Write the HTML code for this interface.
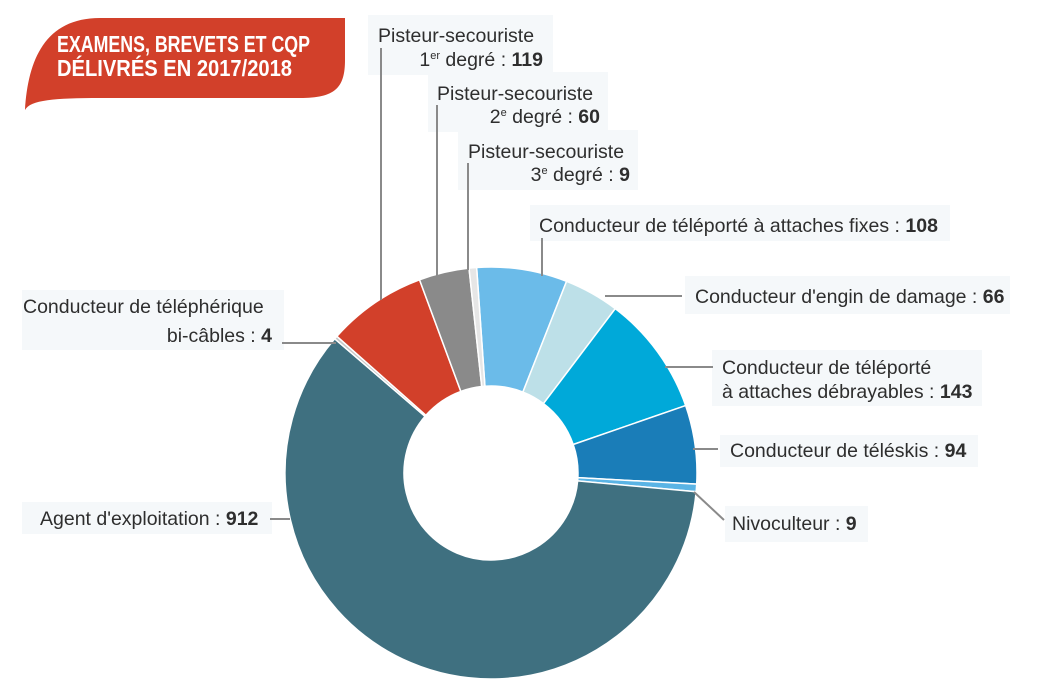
<!DOCTYPE html>
<html><head><meta charset="utf-8"><style>
html,body{margin:0;padding:0;background:#fff;}
body{width:1059px;height:691px;overflow:hidden;}
text{font-family:"Liberation Sans",sans-serif;font-size:19.5px;fill:#2e2e2e;}
.b{font-weight:bold;}
.t{font-family:"Liberation Sans",sans-serif;font-weight:bold;font-size:23px;fill:#fff;}
</style></head><body>
<svg id="s" width="1059" height="691" viewBox="0 0 1059 691" xmlns="http://www.w3.org/2000/svg">
<g fill="#f5f8fa">
<rect x="368" y="15" width="185" height="60"/>
<rect x="428" y="72" width="180" height="60"/>
<rect x="458" y="130" width="180" height="60"/>
<rect x="530" y="205" width="420" height="36"/>
<rect x="685" y="276" width="325" height="38"/>
<rect x="712" y="350" width="270" height="56"/>
<rect x="720" y="435" width="258" height="32"/>
<rect x="725" y="506" width="143" height="36"/>
<rect x="22" y="290" width="262" height="60"/>
<rect x="22" y="502" width="250" height="32"/>
</g>
<path d="M25,110 C28,60 45,18 100,18 L345,18 L345,60 C345,88 335,98 300,98 L100,98 C55,98 30,100 25,110 Z" fill="#d2402a"/>
<text class="t" x="57" y="52" textLength="253" lengthAdjust="spacingAndGlyphs">EXAMENS, BREVETS ET CQP</text>
<text class="t" x="57" y="76" textLength="235" lengthAdjust="spacingAndGlyphs">DÉLIVRÉS EN 2017/2018</text>
<g id="donut"></g>
<g stroke="#8a8a8a" stroke-width="2" fill="none">
<line x1="381" y1="48" x2="381" y2="300"/>
<line x1="437" y1="105" x2="437" y2="277"/>
<line x1="468" y1="163" x2="468" y2="270"/>
<line x1="542" y1="238" x2="542" y2="276"/>
<line x1="605" y1="296" x2="682" y2="296"/>
<line x1="665" y1="367" x2="713" y2="367"/>
<line x1="693" y1="449" x2="718" y2="449"/>
<line x1="694" y1="492" x2="724" y2="520"/>
<line x1="282" y1="343" x2="336" y2="343"/>
<line x1="270" y1="519" x2="290" y2="519"/>
</g>
<text x="378" y="42">Pisteur-secouriste</text>
<text x="543" y="66" text-anchor="end">1<tspan font-size="11" dy="-7">er</tspan><tspan dy="7"> degré : </tspan><tspan class="b">119</tspan></text>
<text x="437" y="100">Pisteur-secouriste</text>
<text x="600" y="123" text-anchor="end">2<tspan font-size="11" dy="-7">e</tspan><tspan dy="7"> degré : </tspan><tspan class="b">60</tspan></text>
<text x="468" y="158">Pisteur-secouriste</text>
<text x="630" y="181" text-anchor="end">3<tspan font-size="11" dy="-7">e</tspan><tspan dy="7"> degré : </tspan><tspan class="b">9</tspan></text>
<text x="539" y="232">Conducteur de téléporté à attaches fixes : <tspan class="b">108</tspan></text>
<text x="695" y="303">Conducteur d'engin de damage : <tspan class="b">66</tspan></text>
<text x="722" y="374">Conducteur de téléporté</text>
<text x="722" y="398">à attaches débrayables : <tspan class="b">143</tspan></text>
<text x="730" y="457">Conducteur de téléskis : <tspan class="b">94</tspan></text>
<text x="732" y="530">Nivoculteur : <tspan class="b">9</tspan></text>
<text x="23" y="313">Conducteur de téléphérique</text>
<text x="272" y="342" text-anchor="end">bi-câbles : <tspan class="b">4</tspan></text>
<text x="40" y="525">Agent d'exploitation : <tspan class="b">912</tspan></text>
</svg>
<script>
(function(){
var cx=491,cy=473,R=206,r=87;
var d=[[108,"#6bbbe9"],[66,"#bde0e8"],[143,"#00a9d9"],[94,"#1a7db8"],[9,"#5ab4e5"],[912,"#3f7080"],[4,"#c8c8c8"],[119,"#d2402a"],[60,"#8a8a8a"],[9,"#e6e6e6"]];
var tot=0;d.forEach(function(x){tot+=x[0];});
var a=-4*Math.PI/180,g=document.getElementById("donut"),h="";
function p(rad,ang){return (cx+rad*Math.sin(ang)).toFixed(2)+","+(cy-rad*Math.cos(ang)).toFixed(2);}
d.forEach(function(x){
var b=a+x[0]/tot*2*Math.PI,l=(b-a)>Math.PI?1:0;
h+='<path d="M'+p(R,a)+' A'+R+','+R+' 0 '+l+' 1 '+p(R,b)+' L'+p(r,b)+' A'+r+','+r+' 0 '+l+' 0 '+p(r,a)+' Z" fill="'+x[1]+'" stroke="#fff" stroke-width="1.5"/>';
a=b;});
g.innerHTML=h;
})();
</script>
</body></html>
